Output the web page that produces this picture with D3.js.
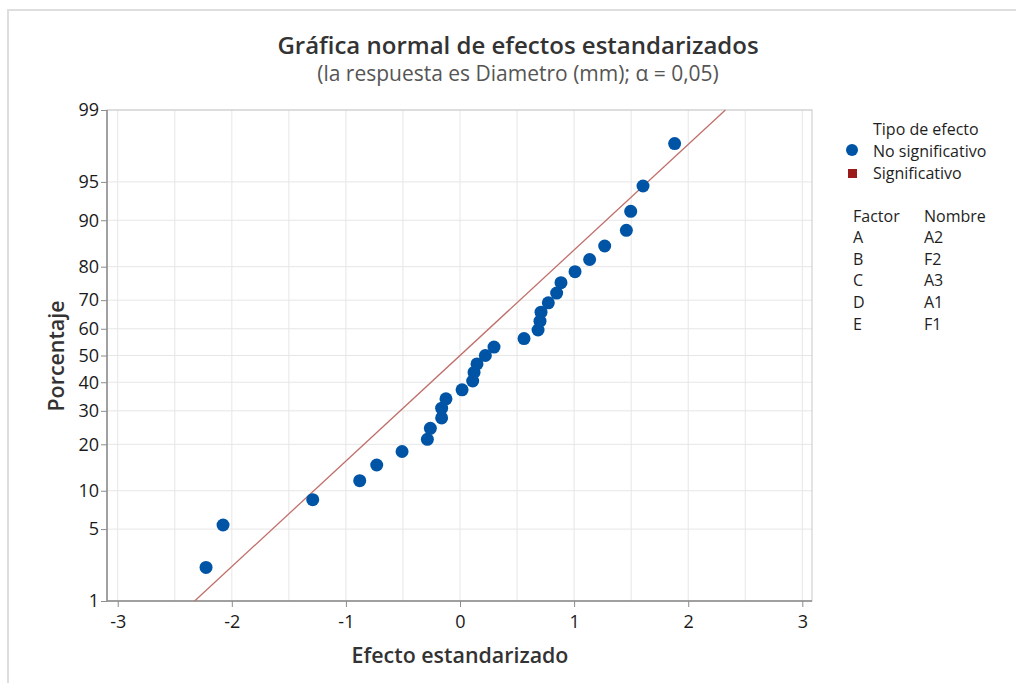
<!DOCTYPE html>
<html>
<head>
<meta charset="utf-8">
<script src="https://cdn.jsdelivr.net/npm/d3@7"></script>
<style>
  html, body { margin: 0; padding: 0; background: #fff; }
  svg { display: block; font-family: "Open Sans", "Noto Sans", sans-serif; }
  .axis text { font-size: 18px; font-family: "Open Sans", sans-serif; fill: #1a1a1a; }
</style>
</head>
<body>
<svg id="chart" width="1016" height="683"></svg>
<script>
// Standardized effects (sorted) and their normal plotting percentages
const effects = [-2.226, -2.077, -1.291, -0.879, -0.730, -0.508, -0.286, -0.260,
  -0.161, -0.161, -0.123, 0.018, 0.111, 0.123, 0.149, 0.222, 0.298, 0.561,
  0.684, 0.701, 0.710, 0.774, 0.847, 0.885, 1.008, 1.136, 1.268, 1.458,
  1.496, 1.604, 1.881];
const percents = [2.23, 5.41, 8.60, 11.78, 14.97, 18.15, 21.34, 24.52, 27.71,
  30.89, 34.08, 37.26, 40.45, 43.63, 46.82, 50.00, 53.18, 56.37, 59.55, 62.74,
  65.92, 69.11, 72.29, 75.48, 78.66, 81.85, 85.03, 88.22, 91.40, 94.59, 97.77];

// Reference line (null distribution of the effects)
const refLineX = [-2.326, 2.326];
const refLinePct = [1, 99];

const xTicks = [-3, -2, -1, 0, 1, 2, 3];
const xGrid = [-3, -2.5, -2, -1.5, -1, -0.5, 0, 0.5, 1, 1.5, 2, 2.5, 3];
const yTicks = [1, 5, 10, 20, 30, 40, 50, 60, 70, 80, 90, 95, 99];

const factorCodes = ["A", "B", "C", "D", "E"];
const factorNames = ["A2", "F2", "A3", "A1", "F1"];
const legendTypes = ["No significativo", "Significativo"];

// Inverse standard normal CDF (Acklam's approximation)
function probit(p) {
  const a = [-3.969683028665376e+01, 2.209460984245205e+02, -2.759285104469687e+02,
    1.383577518672690e+02, -3.066479806614716e+01, 2.506628277459239e+00];
  const b = [-5.447609879822406e+01, 1.615858368580409e+02, -1.556989798598866e+02,
    6.680131188771972e+01, -1.328068155288572e+01];
  const c = [-7.784894002430293e-03, -3.223964580411365e-01, -2.400758277161838e+00,
    -2.549732539343734e+00, 4.374664141464968e+00, 2.938163982698783e+00];
  const d = [7.784695709041462e-03, 3.224671290700398e-01, 2.445134137142996e+00,
    3.754408661907416e+00];
  const pl = 0.02425, ph = 1 - pl;
  let q, r;
  if (p < pl) {
    q = Math.sqrt(-2 * Math.log(p));
    return (((((c[0]*q+c[1])*q+c[2])*q+c[3])*q+c[4])*q+c[5]) /
           ((((d[0]*q+d[1])*q+d[2])*q+d[3])*q+1);
  } else if (p <= ph) {
    q = p - 0.5; r = q * q;
    return (((((a[0]*r+a[1])*r+a[2])*r+a[3])*r+a[4])*r+a[5])*q /
           (((((b[0]*r+b[1])*r+b[2])*r+b[3])*r+b[4])*r+1);
  } else {
    q = Math.sqrt(-2 * Math.log(1 - p));
    return -(((((c[0]*q+c[1])*q+c[2])*q+c[3])*q+c[4])*q+c[5]) /
            ((((d[0]*q+d[1])*q+d[2])*q+d[3])*q+1);
  }
}

const svg = d3.select("#chart");
const W = 1016, H = 683;
const plot = { left: 107, right: 812, top: 110, bottom: 601 };

// Outer panel frame
svg.append("path")
  .attr("d", `M8,${H} L8,10 L${W},10`)
  .attr("fill", "none").attr("stroke", "#dedede").attr("stroke-width", 2);

const x = d3.scaleLinear().domain([-3.094, 3.085]).range([plot.left, plot.right]);
// Normal probability scale: linear in the z-score of the percentage
const zScale = d3.scaleLinear().domain([probit(0.01), probit(0.99)]).range([plot.bottom, plot.top]);
const y = pct => zScale(probit(pct / 100));

// Grid
const grid = svg.append("g");
grid.selectAll("line.gx").data(xGrid).join("line")
  .attr("x1", d => x(d)).attr("x2", d => x(d))
  .attr("y1", plot.top).attr("y2", plot.bottom)
  .attr("stroke", "#e6e6e6").attr("stroke-width", 1);
grid.selectAll("line.gy").data(yTicks).join("line")
  .attr("x1", plot.left).attr("x2", plot.right)
  .attr("y1", d => y(d)).attr("y2", d => y(d))
  .attr("stroke", "#e6e6e6").attr("stroke-width", 1);

// Plot frame
svg.append("rect")
  .attr("x", plot.left).attr("y", plot.top)
  .attr("width", plot.right - plot.left).attr("height", plot.bottom - plot.top)
  .attr("fill", "none").attr("stroke", "#c8c8c8").attr("stroke-width", 1);
svg.append("path")
  .attr("d", `M${plot.left},${plot.top} L${plot.left},${plot.bottom} L${plot.right},${plot.bottom}`)
  .attr("fill", "none").attr("stroke", "#8c8c8c").attr("stroke-width", 1.5);

// Axes
const xAxis = d3.axisBottom(x).tickValues(xTicks).tickSize(6).tickPadding(8)
  .tickFormat(d => String(d));
const gx = svg.append("g").attr("class", "axis")
  .attr("transform", `translate(0,${plot.bottom})`).call(xAxis);
const yAxis = d3.axisLeft(zScale).tickValues(yTicks.map(p => probit(p / 100)))
  .tickSize(6).tickPadding(2).tickFormat((d, i) => yTicks[i]);
const gy = svg.append("g").attr("class", "axis")
  .attr("transform", `translate(${plot.left},0)`).call(yAxis);
[gx, gy].forEach(g => {
  g.select(".domain").remove();
  g.selectAll(".tick line").attr("stroke", "#8c8c8c");
});

// Reference line
svg.append("line")
  .attr("x1", x(refLineX[0])).attr("y1", y(refLinePct[0]))
  .attr("x2", x(refLineX[1])).attr("y2", y(refLinePct[1]))
  .attr("stroke", "#c0706c").attr("stroke-width", 1.3);

// Effect points
svg.append("g").selectAll("circle").data(effects).join("circle")
  .attr("cx", d => x(d)).attr("cy", (d, i) => y(percents[i]))
  .attr("r", 6.5).attr("fill", "#0054a6");

// Titles
svg.append("text").attr("x", 518).attr("y", 54).attr("text-anchor", "middle")
  .attr("fill", "#333").style("font-size", "24px").style("font-weight", 600)
  .text("Gráfica normal de efectos estandarizados");
svg.append("text").attr("x", 518).attr("y", 81).attr("text-anchor", "middle")
  .attr("fill", "#555").style("font-size", "21px")
  .text("(la respuesta es Diametro (mm); α = 0,05)");

// Axis titles
svg.append("text").attr("x", 460).attr("y", 663).attr("text-anchor", "middle")
  .attr("fill", "#333").style("font-size", "21.4px").style("font-weight", 600)
  .text("Efecto estandarizado");
svg.append("text").attr("transform", "translate(64,356) rotate(-90)")
  .attr("text-anchor", "middle").attr("fill", "#333")
  .style("font-size", "21.4px").style("font-weight", 600)
  .text("Porcentaje");

// Legend
const lg = svg.append("g").style("font-size", "16px").attr("fill", "#1e1e1e");
lg.append("text").attr("x", 873).attr("y", 135).text("Tipo de efecto");
lg.append("circle").attr("cx", 852).attr("cy", 150).attr("r", 6).attr("fill", "#0054a6");
lg.append("rect").attr("x", 848).attr("y", 169).attr("width", 9).attr("height", 9).attr("fill", "#9b1b1b");
lg.selectAll("text.lt").data(legendTypes).join("text").attr("class", "lt")
  .attr("x", 873).attr("y", (d, i) => 157 + i * 22).text(d => d);

lg.append("text").attr("x", 853).attr("y", 222).text("Factor");
lg.append("text").attr("x", 924).attr("y", 222).text("Nombre");
lg.selectAll("text.fc").data(factorCodes).join("text").attr("class", "fc")
  .attr("x", 853).attr("y", (d, i) => 243 + i * 21.7).text(d => d);
lg.selectAll("text.fn").data(factorNames).join("text").attr("class", "fn")
  .attr("x", 924).attr("y", (d, i) => 243 + i * 21.7).text(d => d);
</script>
</body>
</html>
